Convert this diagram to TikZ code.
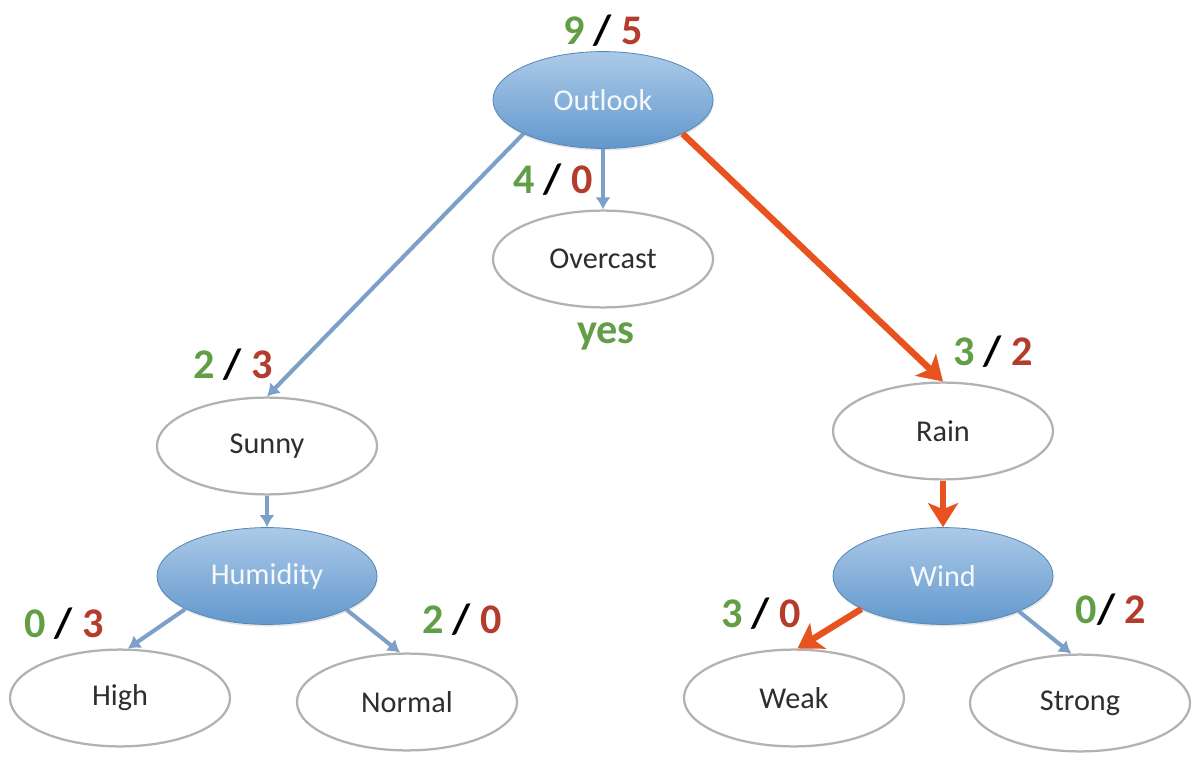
\documentclass[tikz,border=0pt]{standalone}
\usepackage{fontspec}
\setmainfont{Carlito}
\usetikzlibrary{shapes.geometric,
				arrows.meta,
				shadows}

\definecolor{cntgreen}{RGB}{98,158,70}
\definecolor{cntred}{RGB}{180,60,45}
\definecolor{edgeblue}{RGB}{125,160,200}
\definecolor{edgeorange}{RGB}{232,82,30}
\definecolor{attrtop}{RGB}{172,202,232}
\definecolor{attrbot}{RGB}{98,152,205}
\definecolor{leafgray}{RGB}{178,178,178}

\begin{document}
\begin{tikzpicture}[x=0.025cm, y=-0.025cm]
\tikzset{attr/.style={ellipse, minimum width=5.5cm, minimum height=2.42cm, inner sep=0pt, top color=attrtop, bottom color=attrbot, draw=attrbot!90!black, line width=0.6pt, text=white!88!attrtop, font=\fontsize{21.5}{24}\selectfont, drop shadow={opacity=0.2, shadow xshift=0.5pt, shadow yshift=-1.5pt}}}
\tikzset{leaf/.style={ellipse, minimum width=5.5cm, minimum height=2.42cm, inner sep=0pt, fill=white, draw=leafgray, line width=1.6pt, text=black!82, font=\fontsize{21.5}{24}\selectfont}}
\tikzset{count/.style={anchor=base, inner sep=0pt, font=\bfseries\fontsize{30}{33}\selectfont}}
\tikzset{weak edge/.style={draw=edgeblue, line width=2.9pt, -{Latex[length=0.3cm, width=0.38cm]}}}
\tikzset{best edge/.style={draw=edgeorange, line width=4.6pt, -{Stealth[length=0.6cm, width=0.75cm, inset=0.15cm]}}}

\useasboundingbox (0,0) rectangle (1198,762);

% attribute nodes
\node[attr] (outlook) at (603,100) {Outlook};
\node[attr] (humidity) at (267,576) {Humidity};
\node[attr] (wind) at (943,576) {Wind};

% value nodes
\node[leaf] (overcast) at (603,259) {Overcast};
\node[leaf] (sunny) at (267,446) {Sunny};
\node[leaf] (rain) at (943,431) {Rain};
\node[leaf] (high) at (120,698) {High};
\node[leaf] (normal) at (407,702) {Normal};
\node[leaf] (weak) at (794,698) {Weak};
\node[leaf] (strong) at (1080,703) {Strong};

% counts yes / no
\node[count] (c95) at (603,45) {\textcolor{cntgreen}{9} / \textcolor{cntred}{5}};
\node[count] (c40) at (553,193) {\textcolor{cntgreen}{4} / \textcolor{cntred}{0}};
\node[count] (c23) at (233,378) {\textcolor{cntgreen}{2} / \textcolor{cntred}{3}};
\node[count] (c32) at (993,365) {\textcolor{cntgreen}{3} / \textcolor{cntred}{2}};
\node[count] (c03) at (64,637) {\textcolor{cntgreen}{0} / \textcolor{cntred}{3}};
\node[count] (c20) at (462,633) {\textcolor{cntgreen}{2} / \textcolor{cntred}{0}};
\node[count] (c30) at (761,627) {\textcolor{cntgreen}{3} / \textcolor{cntred}{0}};
\node[count] (c02) at (1111,623) {\textcolor{cntgreen}{0}/ \textcolor{cntred}{2}};
\node[count, text=cntgreen] (yes) at (606,343) {yes};

% edges
\draw[weak edge] (outlook.203) -- (sunny.north);
\draw[weak edge] (outlook.south) -- (overcast.north);
\draw[best edge] (outlook.337) -- (rain.north);
\draw[weak edge] (sunny.south) -- (humidity.north);
\draw[best edge] (rain.south) -- (wind.north);
\draw[weak edge] (humidity.202) -- (high.81);
\draw[weak edge] (humidity.337) -- (normal.98);
\draw[best edge] (wind.202) -- (weak.86);
\draw[weak edge] (wind.335) -- (strong.100);

\end{tikzpicture}
\end{document}
